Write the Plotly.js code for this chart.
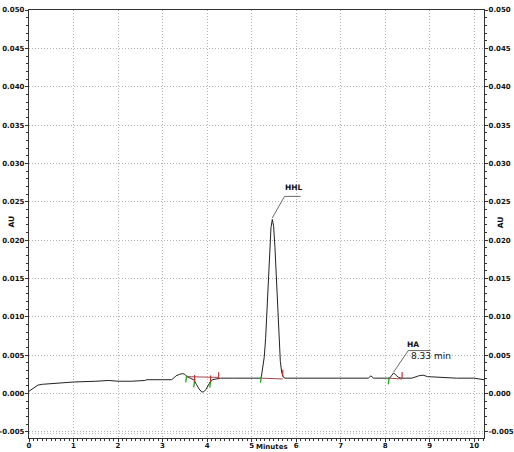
<!DOCTYPE html>
<html>
<head>
<meta charset="utf-8">
<script src="https://cdn.plot.ly/plotly-3.0.1.min.js"></script>
<style>html,body{margin:0;padding:0;background:#fff;}#chart{width:514px;height:452px;}</style>
</head>
<body>
<div id="chart"></div>
<script>
// Chromatogram trace (minutes, AU)
const timeMin = [0,0.05,0.1,0.15,0.2,0.3,0.5,0.8,1.0,1.5,1.8,2.0,2.3,2.6,2.65,3.0,3.2,3.25,3.3,3.38,3.45,3.5,3.55,3.62,3.7,3.76,3.82,3.88,3.92,3.97,4.02,4.07,4.12,4.2,4.3,4.6,5.0,5.2,
  5.22,5.255,5.285,5.315,5.345,5.375,5.405,5.435,5.465,5.495,5.525,5.555,5.585,5.615,5.645,5.675,5.705,5.75,
  6.0,6.5,7.0,7.5,7.62,7.68,7.74,8.0,8.1,8.14,8.19,8.24,8.3,8.36,8.6,8.75,8.85,8.95,9.2,9.6,10.0,10.1,10.22];
const absorbanceAU = [0.0003,0.0005,0.0008,0.0010,0.0011,0.0012,0.0013,0.0014,0.0015,0.0016,0.0017,0.0016,0.0016,0.0017,0.0018,0.0018,0.0018,0.0020,0.0023,0.0025,0.0026,0.0025,0.0022,0.0020,0.0018,0.0012,0.0006,0.0002,0.0002,0.0005,0.0010,0.0015,0.0018,0.0019,0.0020,0.0020,0.0020,0.0020,
  0.0022,0.0034,0.0048,0.0072,0.0105,0.0146,0.0186,0.0216,0.0227,0.0218,0.0190,0.0150,0.0105,0.0068,0.0042,0.0028,0.0022,0.0020,
  0.0020,0.0020,0.0020,0.0020,0.0020,0.0023,0.0020,0.0020,0.0020,0.0023,0.0027,0.0024,0.0021,0.0020,0.0020,0.0023,0.0024,0.0022,0.0021,0.0020,0.0020,0.0019,0.0018];

// Peak labels
const peakNames = ["HHL", "HA"];
const peakTimes = [5.465, 8.19];
const peakHeights = [0.0227, 0.0027];
const retentionLabel = "8.33 min";

// Integration markers: start (green), end (red), baselines (brown)
const startMarkTimes = [3.54, 3.72, 4.08, 5.22, 8.09];
const endMarkTimes = [3.72, 4.08, 4.26, 5.70, 8.38];
const baselineStarts = [3.54, 5.22, 8.09];
const baselineEnds = [4.26, 5.70, 8.38];
const baselineLevels = [0.0022, 0.0020, 0.0020];

const yTicks = [-0.005,0,0.005,0.010,0.015,0.020,0.025,0.030,0.035,0.040,0.045,0.050];
const yTickText = ["-0.005","0.000","0.005","0.010","0.015","0.020","0.025","0.030","0.035","0.040","0.045","0.050"];
const xTicks = [0,1,2,3,4,5,6,7,8,9,10];

const traces = [
  {x: timeMin, y: absorbanceAU, type: 'scatter', mode: 'lines', line: {color: '#222', width: 1}, hoverinfo: 'skip', xaxis: 'x', yaxis: 'y'},
  {x: [0], y: [0], type: 'scatter', mode: 'markers', marker: {opacity: 0}, xaxis: 'x', yaxis: 'y2', hoverinfo: 'skip'}
];

const gridDash = '1px,2px';
const shapes = [];
// -0.005 double dotted line
shapes.push({type:'line', xref:'paper', x0:0, x1:1, yref:'y', y0:-0.0052, y1:-0.0052, line:{color:'#b4b4b4', width:1, dash:gridDash}});
function interp(t){
  for (let i=1;i<timeMin.length;i++){ if (timeMin[i]>=t){ const f=(t-timeMin[i-1])/(timeMin[i]-timeMin[i-1]); return absorbanceAU[i-1]+f*(absorbanceAU[i]-absorbanceAU[i-1]); } }
  return absorbanceAU[absorbanceAU.length-1];
}
baselineStarts.forEach((s,i)=>{
  shapes.push({type:'line', x0:s, x1:baselineEnds[i], y0:baselineLevels[i], y1:baselineLevels[i]-0.0001, line:{color:'#a04848', width:1}});
});
startMarkTimes.forEach(t=>{
  const v = interp(t);
  shapes.push({type:'line', x0:t-0.02, x1:t, y0:v-0.0008, y1:v+0.0001, line:{color:'#1fa31f', width:1.3}});
});
endMarkTimes.forEach(t=>{
  const v = interp(t);
  shapes.push({type:'line', x0:t, x1:t, y0:v-0.0001, y1:v+0.0008, line:{color:'#c03030', width:1.2}});
});
// leader lines
shapes.push({type:'line', x0:peakTimes[0], y0:peakHeights[0]+0.0002, x1:5.74, y1:0.0257, line:{color:'#444', width:0.8}});
shapes.push({type:'line', x0:5.74, y0:0.0257, x1:6.1, y1:0.0257, line:{color:'#444', width:0.8}});
shapes.push({type:'line', x0:peakTimes[1], y0:peakHeights[1]+0.0001, x1:8.52, y1:0.0056, line:{color:'#444', width:0.8}});
shapes.push({type:'line', x0:8.52, y0:0.0056, x1:9.02, y1:0.0056, line:{color:'#444', width:0.8}});

const boldFont = {family: 'DejaVu Sans', size: 7, color: '#111', weight: 'bold'};
const labelFont = {family: 'DejaVu Sans', size: 7.5, color: '#111', weight: 'bold'};
const annotations = [
  {x: 5.96, y: 0.0268, text: peakNames[0], showarrow: false, font: labelFont, xanchor:'center', yanchor:'middle'},
  {x: 8.63, y: 0.0064, text: peakNames[1], showarrow: false, font: labelFont, xanchor:'center', yanchor:'middle'},
  {x: 8.53, y: 0.0049, text: retentionLabel, showarrow: false, font: {family:'DejaVu Sans', size: 9, color:'#111'}, xanchor:'left', yanchor:'middle'},
  {xref:'paper', yref:'paper', x: 0.534, y: -0.022, text: 'Minutes', showarrow:false, font: boldFont, xanchor:'center', yanchor:'middle'},
  {xref:'paper', yref:'paper', x: -0.038, y: 0.505, text: 'AU', showarrow:false, font: labelFont, textangle:-90, xanchor:'center', yanchor:'middle'},
  {xref:'paper', yref:'paper', x: 1.036, y: 0.505, text: 'AU', showarrow:false, font: labelFont, textangle:-90, xanchor:'center', yanchor:'middle'}
];

const axisCommon = {
  showline: true, linecolor: '#333', linewidth: 1.2,
  showgrid: true, gridcolor: '#b4b4b4', griddash: gridDash, gridwidth: 1,
  zeroline: false, ticks: 'outside', ticklen: 3, tickcolor: '#333',
  tickfont: boldFont
};

const layout = {
  width: 514, height: 452,
  margin: {l: 29, r: 30, t: 10, b: 14},
  paper_bgcolor: '#fff', plot_bgcolor: '#fff',
  showlegend: false,
  xaxis: Object.assign({}, axisCommon, {range: [0, 10.22], tickvals: xTicks, mirror: true, ticklabelstandoff: -3,
    minor: {dtick: 0.1, tick0: 0, ticks: 'outside', ticklen: 2, tickcolor: '#333', showgrid: false}}),
  yaxis: Object.assign({}, axisCommon, {range: [-0.0058, 0.050], tickvals: yTicks, ticktext: yTickText, ticklabelstandoff: -1,
    minor: {dtick: 0.001, tick0: 0, ticks: 'outside', ticklen: 2, tickcolor: '#333', showgrid: false}}),
  yaxis2: Object.assign({}, axisCommon, {range: [-0.0058, 0.050], tickvals: yTicks, ticktext: yTickText, ticklabelstandoff: -1,
    overlaying: 'y', side: 'right', showgrid: false,
    minor: {dtick: 0.001, tick0: 0, ticks: 'outside', ticklen: 2, tickcolor: '#333', showgrid: false}}),
  shapes: shapes,
  annotations: annotations
};

Plotly.newPlot('chart', traces, layout, {displayModeBar: false, staticPlot: true});
</script>
</body>
</html>
